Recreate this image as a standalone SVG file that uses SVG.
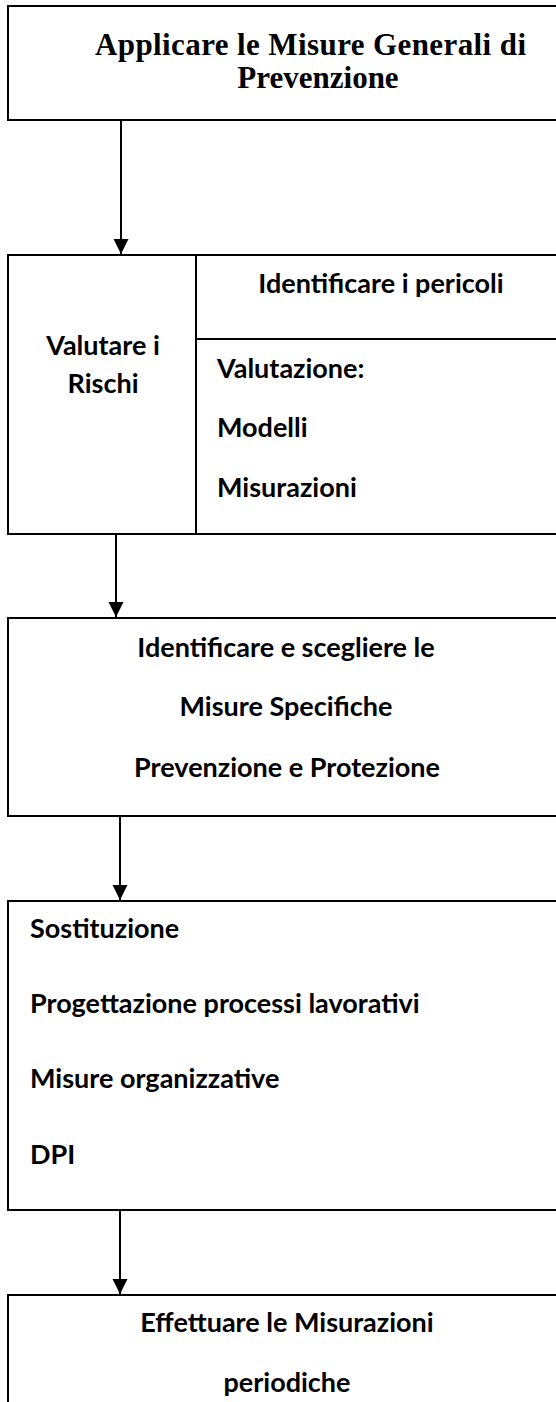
<svg xmlns="http://www.w3.org/2000/svg" width="556" height="1402" viewBox="0 0 556 1402">
<style>
.box{fill:#fff;stroke:#000;stroke-width:2}
.ln{stroke:#000;stroke-width:2;fill:none}
.t{font-family:Lato,"Open Sans",sans-serif;font-weight:bold;font-size:27px;fill:#000}
.c{text-anchor:middle}
.serif{font-family:"Liberation Serif",serif;font-weight:bold;font-size:31px;fill:#000}
</style>
<defs>
<marker id="ah" markerUnits="userSpaceOnUse" markerWidth="16" markerHeight="16" refX="15" refY="7.5" orient="auto">
<path d="M0,0 L15,7.5 L0,15 Z" fill="#000"/>
</marker>
</defs>
<rect width="556" height="1402" fill="#fff"/>
<g id="connectors">
<line class="ln" x1="121" y1="120" x2="121" y2="254" marker-end="url(#ah)"/>
<line class="ln" x1="116" y1="534" x2="116" y2="617" marker-end="url(#ah)"/>
<line class="ln" x1="120" y1="816" x2="120" y2="900" marker-end="url(#ah)"/>
<line class="ln" x1="120" y1="1210" x2="120" y2="1294" marker-end="url(#ah)"/>
</g>
<g id="n1">
<rect class="box" x="8" y="6" width="600" height="114"/>
<text class="serif" x="95" y="55" textLength="431">Applicare le Misure Generali di</text>
<text class="serif" x="318" y="88" text-anchor="middle">Prevenzione</text>
</g>
<g id="n2">
<rect class="box" x="8" y="255" width="600" height="279"/>
<line class="ln" x1="196" y1="255" x2="196" y2="534"/>
<line class="ln" x1="196" y1="339" x2="600" y2="339"/>
<text class="t c" x="381" y="293">Identificare i pericoli</text>
<text class="t c" x="103" y="355">Valutare i</text>
<text class="t c" x="103" y="393">Rischi</text>
<text class="t" x="217" y="378">Valutazione:</text>
<text class="t" x="217" y="437">Modelli</text>
<text class="t" x="217" y="497">Misurazioni</text>
</g>
<g id="n3">
<rect class="box" x="8" y="618" width="600" height="198"/>
<text class="t c" x="286" y="657">Identificare e scegliere le</text>
<text class="t c" x="286" y="716">Misure Specifiche</text>
<text class="t c" x="287" y="777">Prevenzione e Protezione</text>
</g>
<g id="n4">
<rect class="box" x="8" y="901" width="600" height="309"/>
<text class="t" x="30" y="938">Sostituzione</text>
<text class="t" x="30" y="1013">Progettazione processi lavorativi</text>
<text class="t" x="30" y="1088">Misure organizzative</text>
<text class="t" x="30" y="1164">DPI</text>
</g>
<g id="n5">
<rect class="box" x="8" y="1295" width="600" height="200"/>
<text class="t c" x="287" y="1332">Effettuare le Misurazioni</text>
<text class="t c" x="287" y="1392">periodiche</text>
</g>
</svg>
